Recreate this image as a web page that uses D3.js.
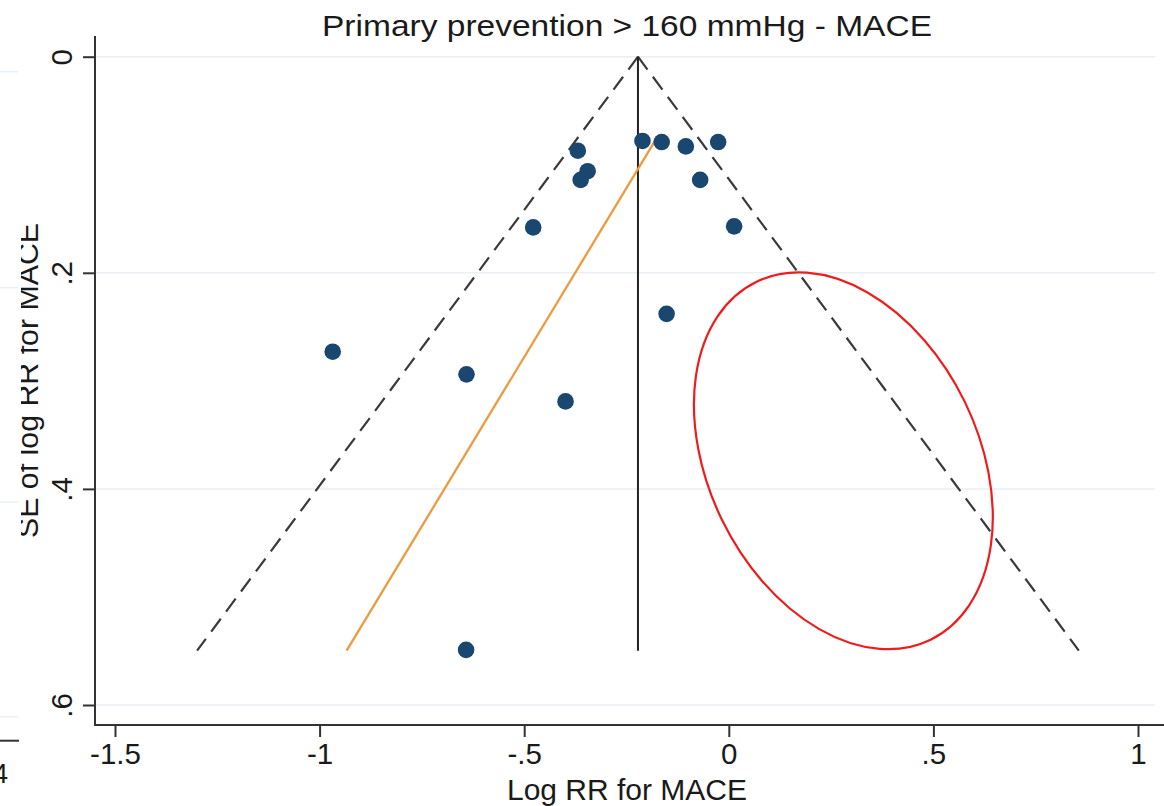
<!DOCTYPE html>
<html>
<head>
<meta charset="utf-8">
<script src="https://cdn.jsdelivr.net/npm/d3@7"></script>
<style>
  html, body { margin: 0; padding: 0; background: #fff; }
  svg { display: block; }
  text { font-family: "Liberation Sans", Arial, Helvetica, sans-serif; fill: #1a1a1a; }
</style>
</head>
<body>
<svg id="chart" width="1164" height="806"></svg>
<script>
// ---- data ----
const title = "Primary prevention > 160 mmHg - MACE";
const xTitle = "Log RR for MACE";
const yTitle = "SE of log RR for MACE";

const xTickValues = [-1.5, -1, -0.5, 0, 0.5, 1];
const xTickLabels = ["-1.5", "-1", "-.5", "0", ".5", "1"];
const yTickValues = [0, 0.2, 0.4, 0.6];
const yTickLabels = ["0", ".2", ".4", ".6"];

// study estimates: log RR and its standard error
const logRR = [-0.211, -0.164, -0.105, -0.026, -0.369, -0.345, -0.362, -0.070, 0.013, -0.478, -0.152, -0.968, -0.641, -0.399, -0.642];
const seLogRR = [0.078, 0.079, 0.083, 0.079, 0.087, 0.106, 0.114, 0.114, 0.157, 0.158, 0.238, 0.273, 0.294, 0.319, 0.549];

const pooledEstimate = -0.222;    // vertical line / funnel apex
const maxSE = 0.5497;             // funnel depth
const z = 1.96;

// Egger regression line endpoints
const eggerSE = [0.0777, 0.5497];
const eggerLogRR = [-0.180, -0.934];

// red annotation ellipse centre (data units)
const ellipseCentreLogRR = [0.280];
const ellipseCentreSE = [0.374];

// ---- drawing ----
const svg = d3.select("#chart");
const x = d3.scaleLinear().domain([-1.5, 1]).range([115, 1138]);
const y = d3.scaleLinear().domain([0, 0.6]).range([56.7, 705]);

const axisColor = "#333";
const gridColor = "#e8eff5";

// gridlines
svg.append("g").selectAll("line").data(yTickValues).join("line")
  .attr("x1", 96).attr("x2", 1155)
  .attr("y1", d => y(d)).attr("y2", d => y(d))
  .attr("stroke", gridColor).attr("stroke-width", 1.5);

// funnel (pseudo 95% CI) dashed lines
const funnel = [
  [[pooledEstimate, 0], [pooledEstimate - z * maxSE, maxSE]],
  [[pooledEstimate, 0], [pooledEstimate + z * maxSE, maxSE]]
];
svg.append("g").selectAll("line").data(funnel).join("line")
  .attr("x1", d => x(d[0][0])).attr("y1", d => y(d[0][1]))
  .attr("x2", d => x(d[1][0])).attr("y2", d => y(d[1][1]))
  .attr("stroke", "#3a3a3a").attr("stroke-width", 2.2)
  .attr("stroke-dasharray", "16,9");

// pooled estimate vertical line
svg.append("line")
  .attr("x1", x(pooledEstimate)).attr("x2", x(pooledEstimate))
  .attr("y1", y(0)).attr("y2", y(maxSE))
  .attr("stroke", "#222").attr("stroke-width", 2);

// Egger line
svg.append("path")
  .datum(eggerSE.map((s, i) => [eggerLogRR[i], s]))
  .attr("d", d3.line().x(d => x(d[0])).y(d => y(d[1])))
  .attr("fill", "none").attr("stroke", "#ee9a3e").attr("stroke-width", 2.3);

// study points
svg.append("g").selectAll("circle").data(logRR.map((v, i) => [v, seLogRR[i]])).join("circle")
  .attr("cx", d => x(d[0])).attr("cy", d => y(d[1])).attr("r", 8.3)
  .attr("fill", "#1a476f");

// red ellipse annotation
svg.append("g").selectAll("ellipse").data(ellipseCentreLogRR.map((v, i) => [v, ellipseCentreSE[i]])).join("ellipse")
  .attr("transform", d => `translate(${x(d[0])},${y(d[1])}) rotate(64)`)
  .attr("rx", 199).attr("ry", 135)
  .attr("fill", "none").attr("stroke", "#ee1c1c").attr("stroke-width", 2.2);

// axes
const xAxis = d3.axisBottom(x).tickValues(xTickValues)
  .tickFormat((d, i) => xTickLabels[i]).tickSize(12).tickSizeOuter(0).tickPadding(6);
const gx = svg.append("g").attr("transform", "translate(0,725)").call(xAxis);
gx.select(".domain").remove();
gx.selectAll(".tick line").attr("stroke", axisColor).attr("stroke-width", 2);
gx.selectAll(".tick text").attr("font-size", 29.5).attr("fill", "#1a1a1a")
  .attr("font-family", '"Liberation Sans", Arial, sans-serif').attr("dy", "0.7em");

const yAxis = d3.axisLeft(y).tickValues(yTickValues)
  .tickFormat((d, i) => yTickLabels[i]).tickSize(12).tickSizeOuter(0).tickPadding(0);
const gy = svg.append("g").attr("transform", "translate(95,0)").call(yAxis);
gy.select(".domain").remove();
gy.selectAll(".tick line").attr("stroke", axisColor).attr("stroke-width", 2);
gy.selectAll(".tick text")
  .attr("font-size", 29.5).attr("fill", "#1a1a1a")
  .attr("font-family", '"Liberation Sans", Arial, sans-serif')
  .attr("text-anchor", "middle").attr("x", null).attr("dy", null)
  .attr("transform", "translate(-23,0) rotate(-90)");

// axis lines
svg.append("line").attr("x1", 95).attr("x2", 95).attr("y1", 36).attr("y2", 726)
  .attr("stroke", axisColor).attr("stroke-width", 2);
svg.append("line").attr("x1", 94).attr("x2", 1164).attr("y1", 725).attr("y2", 725)
  .attr("stroke", axisColor).attr("stroke-width", 2);

// titles
svg.append("text").attr("x", 627).attr("y", 36).attr("text-anchor", "middle")
  .attr("font-size", 30).attr("textLength", 610).attr("lengthAdjust", "spacingAndGlyphs")
  .text(title);
svg.append("text").attr("x", 627).attr("y", 800).attr("text-anchor", "middle")
  .attr("font-size", 30).attr("textLength", 240).attr("lengthAdjust", "spacingAndGlyphs")
  .text(xTitle);
svg.append("text").attr("transform", "translate(38,380.5) rotate(-90)").attr("text-anchor", "middle")
  .attr("font-size", 30).attr("textLength", 315).attr("lengthAdjust", "spacingAndGlyphs")
  .text(yTitle);

// neighbouring panel overlapping the left edge
svg.append("rect").attr("x", 0).attr("y", 0).attr("width", 21).attr("height", 806).attr("fill", "#fff");
svg.append("g").selectAll("line").data([71.7, 287.7, 502, 716.7]).join("line")
  .attr("x1", 0).attr("x2", 18).attr("y1", d => d).attr("y2", d => d)
  .attr("stroke", gridColor).attr("stroke-width", 1.5);
svg.append("line").attr("x1", 0).attr("x2", 19).attr("y1", 740.7).attr("y2", 740.7)
  .attr("stroke", axisColor).attr("stroke-width", 2);
svg.append("text").attr("x", 8).attr("y", 783).attr("text-anchor", "end")
  .attr("font-size", 28).text("4");
</script>
</body>
</html>
